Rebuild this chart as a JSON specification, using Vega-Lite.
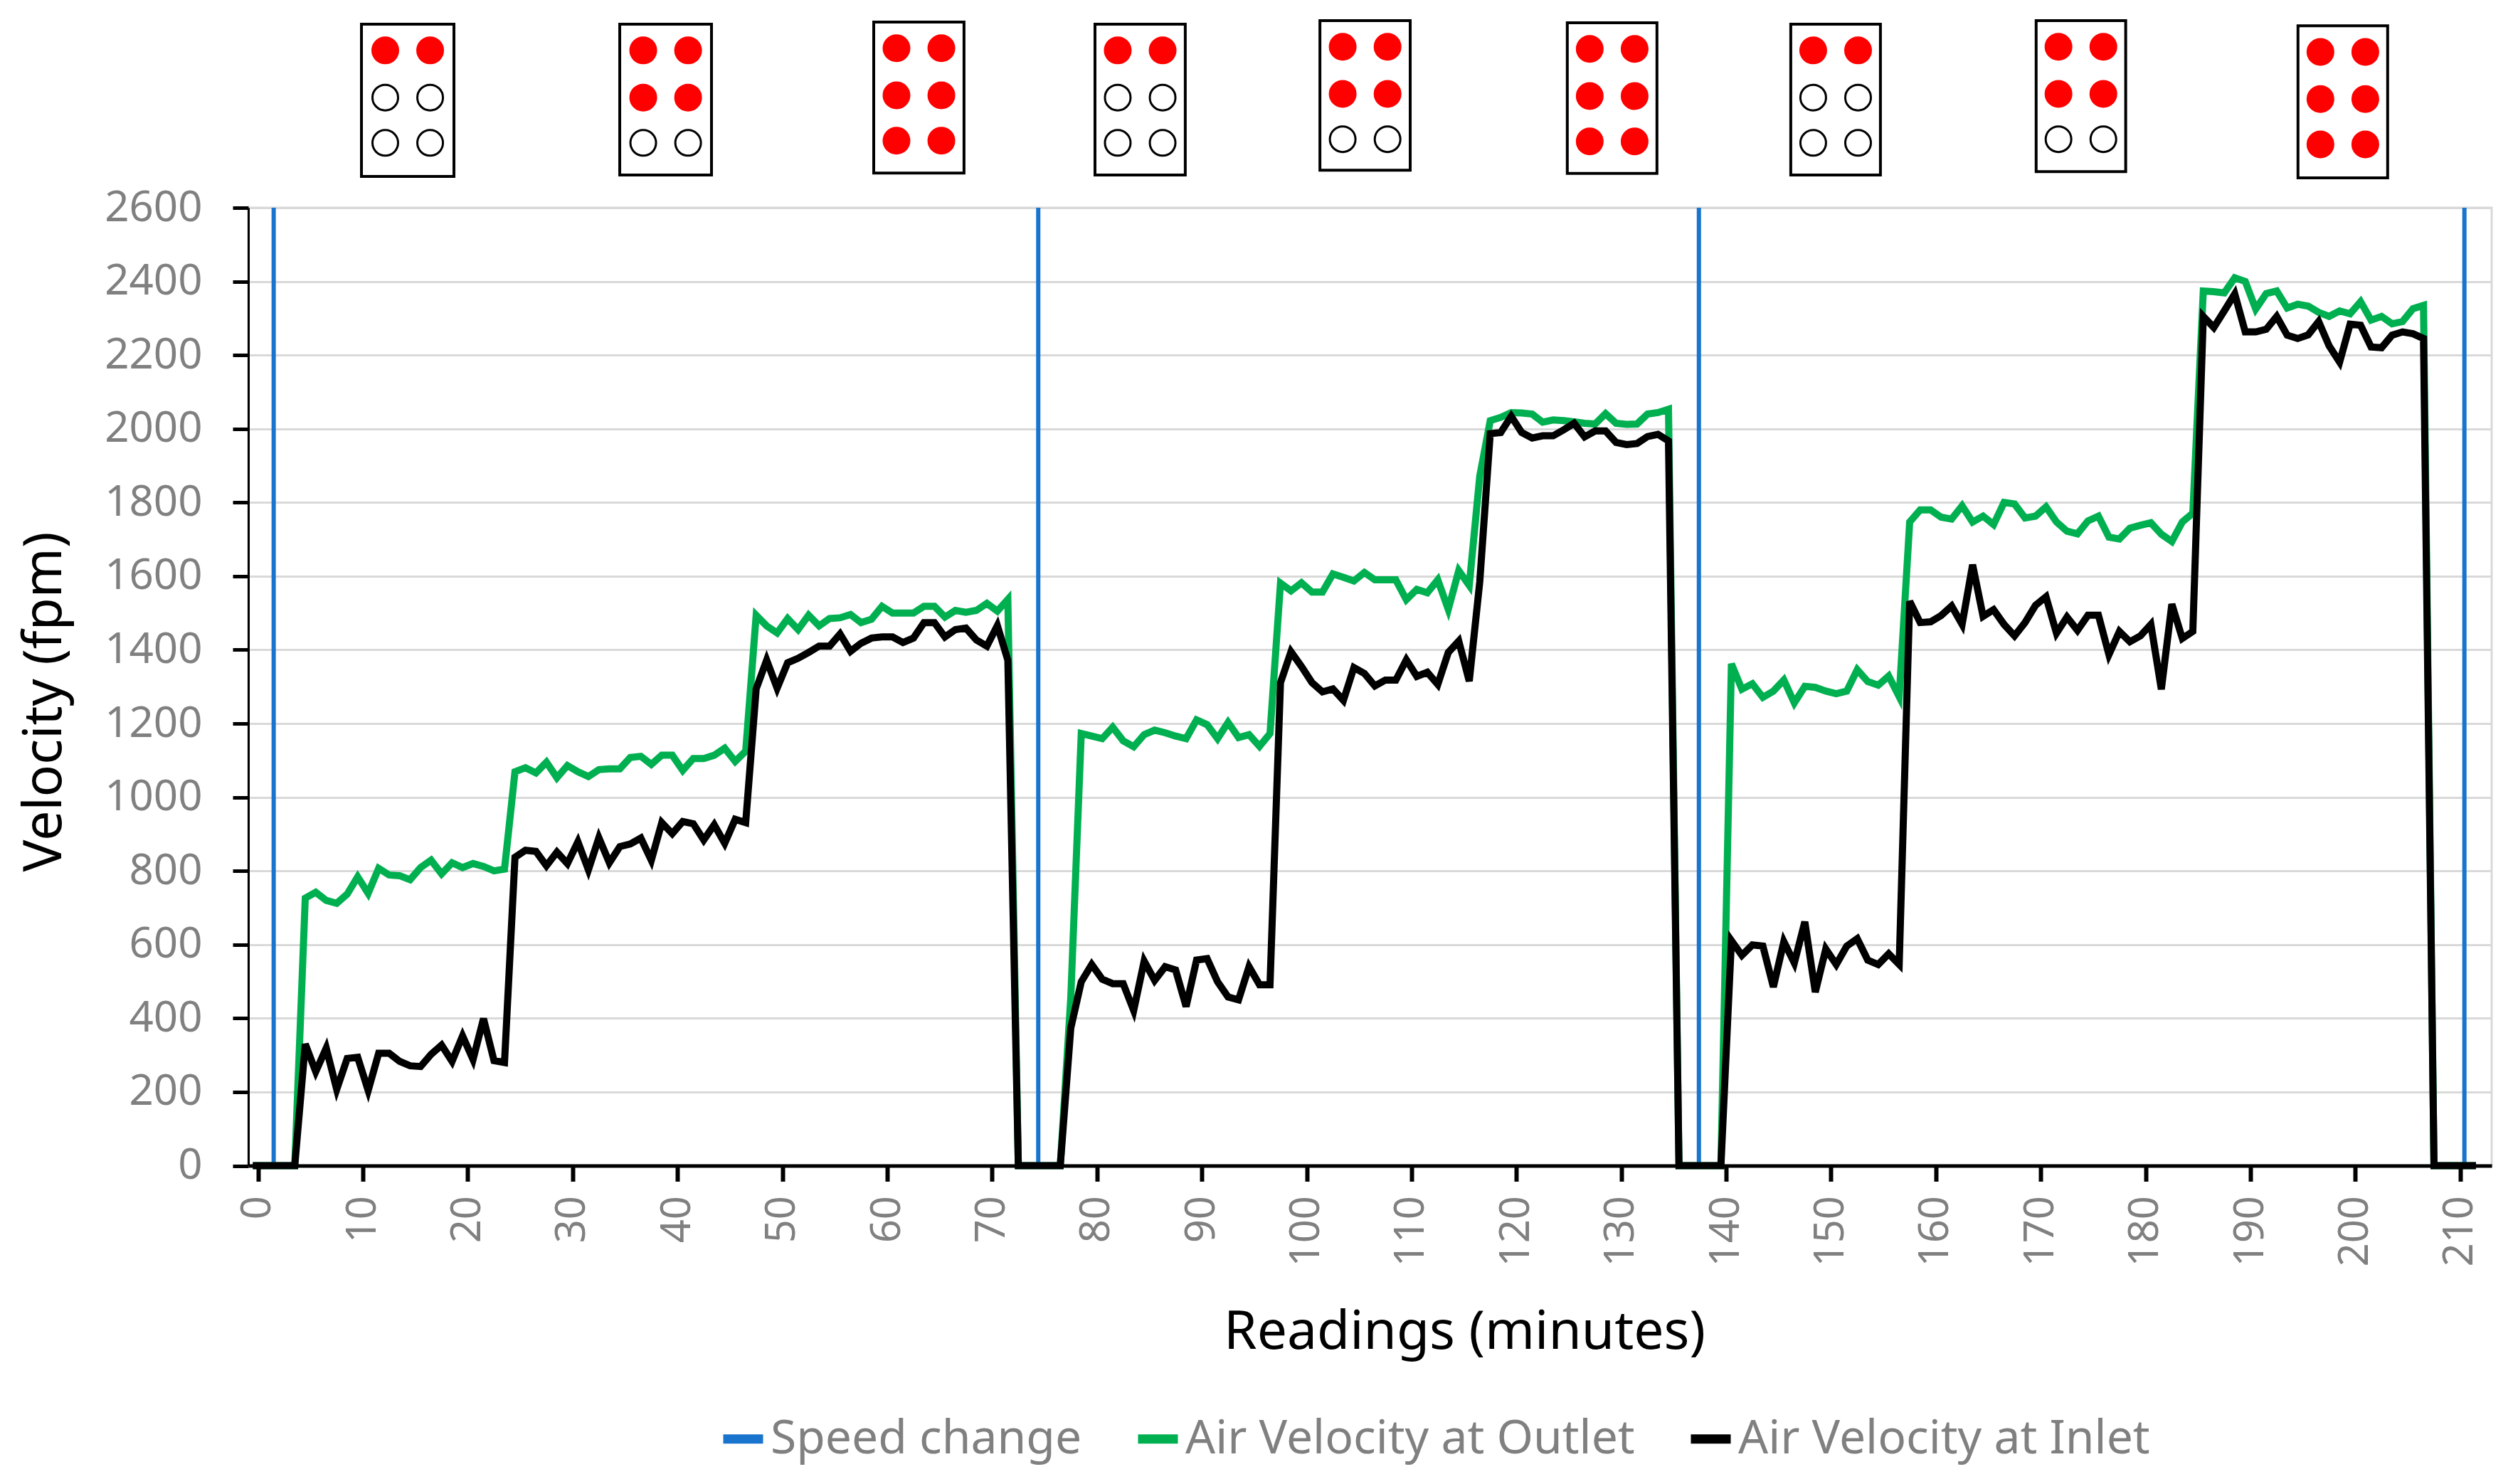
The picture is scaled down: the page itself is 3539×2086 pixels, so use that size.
{"width":3153,"height":1346.5,"autosize":"none","padding":{"left":349,"top":292,"right":37,"bottom":447.5},"background":"white","config":{"view":{"stroke":"#D9D9D9","strokeWidth":3},"font":"Noto Sans"},
"datasets":{
"readings":[{"x":-0.5,"outlet":0,"inlet":0},{"x":0.5,"outlet":0,"inlet":0},{"x":1.5,"outlet":0,"inlet":0},{"x":2.5,"outlet":0,"inlet":0},{"x":3.5,"outlet":0,"inlet":0},
{"x":4.5,"outlet":726,"inlet":330},{"x":5.5,"outlet":742,"inlet":255},{"x":6.5,"outlet":720,"inlet":319},{"x":7.5,"outlet":712,"inlet":207},{"x":8.5,"outlet":737,"inlet":291},{"x":9.5,"outlet":784,"inlet":294},{"x":10.5,"outlet":739,"inlet":204},{"x":11.5,"outlet":807,"inlet":305},{"x":12.5,"outlet":789,"inlet":305},{"x":13.5,"outlet":787,"inlet":283},{"x":14.5,"outlet":776,"inlet":271},{"x":15.5,"outlet":809,"inlet":269},{"x":16.5,"outlet":829,"inlet":302},{"x":17.5,"outlet":792,"inlet":327},{"x":18.5,"outlet":822,"inlet":283},{"x":19.5,"outlet":809,"inlet":352},{"x":20.5,"outlet":820,"inlet":288},{"x":21.5,"outlet":812,"inlet":399},{"x":22.5,"outlet":800,"inlet":285},{"x":23.5,"outlet":805,"inlet":280},
{"x":24.5,"outlet":1069,"inlet":837},{"x":25.5,"outlet":1080,"inlet":856},{"x":26.5,"outlet":1066,"inlet":853},{"x":27.5,"outlet":1095,"inlet":814},{"x":28.5,"outlet":1053,"inlet":851},{"x":29.5,"outlet":1086,"inlet":820},{"x":30.5,"outlet":1069,"inlet":879},{"x":31.5,"outlet":1056,"inlet":803},{"x":32.5,"outlet":1075,"inlet":890},{"x":33.5,"outlet":1077,"inlet":822},{"x":34.5,"outlet":1077,"inlet":866},{"x":35.5,"outlet":1108,"inlet":873},{"x":36.5,"outlet":1111,"inlet":889},{"x":37.5,"outlet":1089,"inlet":829},{"x":38.5,"outlet":1114,"inlet":931},{"x":39.5,"outlet":1114,"inlet":901},{"x":40.5,"outlet":1073,"inlet":934},{"x":41.5,"outlet":1105,"inlet":928},{"x":42.5,"outlet":1105,"inlet":884},{"x":43.5,"outlet":1114,"inlet":925},{"x":44.5,"outlet":1133,"inlet":875},{"x":45.5,"outlet":1097,"inlet":940},{"x":46.5,"outlet":1125,"inlet":931},
{"x":47.5,"outlet":1494,"inlet":1294},{"x":48.5,"outlet":1465,"inlet":1372},{"x":49.5,"outlet":1446,"inlet":1296},{"x":50.5,"outlet":1485,"inlet":1365},{"x":51.5,"outlet":1455,"inlet":1377},{"x":52.5,"outlet":1494,"inlet":1393},{"x":53.5,"outlet":1465,"inlet":1410},{"x":54.5,"outlet":1485,"inlet":1410},{"x":55.5,"outlet":1487,"inlet":1443},{"x":56.5,"outlet":1496,"inlet":1396},{"x":57.5,"outlet":1474,"inlet":1418},{"x":58.5,"outlet":1483,"inlet":1432},{"x":59.5,"outlet":1518,"inlet":1435},{"x":60.5,"outlet":1500,"inlet":1435},{"x":61.5,"outlet":1500,"inlet":1420},{"x":62.5,"outlet":1500,"inlet":1432},{"x":63.5,"outlet":1518,"inlet":1474},{"x":64.5,"outlet":1518,"inlet":1474},{"x":65.5,"outlet":1489,"inlet":1435},{"x":66.5,"outlet":1507,"inlet":1455},{"x":67.5,"outlet":1502,"inlet":1459},{"x":68.5,"outlet":1507,"inlet":1427},{"x":69.5,"outlet":1526,"inlet":1410},{"x":70.5,"outlet":1505,"inlet":1466},{"x":71.5,"outlet":1537,"inlet":1372},
{"x":72.5,"outlet":0,"inlet":0},{"x":73.5,"outlet":0,"inlet":0},{"x":74.5,"outlet":0,"inlet":0},{"x":75.5,"outlet":0,"inlet":0},{"x":76.5,"outlet":0,"inlet":0},
{"x":77.5,"outlet":455,"inlet":373},{"x":78.5,"outlet":1173,"inlet":499},{"x":79.5,"outlet":1166,"inlet":546},{"x":80.5,"outlet":1159,"inlet":506},{"x":81.5,"outlet":1190,"inlet":494},{"x":82.5,"outlet":1153,"inlet":494},{"x":83.5,"outlet":1137,"inlet":421},{"x":84.5,"outlet":1170,"inlet":555},{"x":85.5,"outlet":1182,"inlet":503},{"x":86.5,"outlet":1175,"inlet":540},{"x":87.5,"outlet":1166,"inlet":531},{"x":88.5,"outlet":1159,"inlet":432},{"x":89.5,"outlet":1210,"inlet":558},{"x":90.5,"outlet":1197,"inlet":562},{"x":91.5,"outlet":1159,"inlet":499},{"x":92.5,"outlet":1203,"inlet":458},{"x":93.5,"outlet":1162,"inlet":450},{"x":94.5,"outlet":1170,"inlet":540},{"x":95.5,"outlet":1138,"inlet":491},{"x":96.5,"outlet":1173,"inlet":491},
{"x":97.5,"outlet":1581,"inlet":1311},{"x":98.5,"outlet":1560,"inlet":1395},{"x":99.5,"outlet":1582,"inlet":1355},{"x":100.5,"outlet":1557,"inlet":1311},{"x":101.5,"outlet":1557,"inlet":1286},{"x":102.5,"outlet":1606,"inlet":1294},{"x":103.5,"outlet":1597,"inlet":1263},{"x":104.5,"outlet":1587,"inlet":1352},{"x":105.5,"outlet":1610,"inlet":1336},{"x":106.5,"outlet":1590,"inlet":1302},{"x":107.5,"outlet":1590,"inlet":1318},{"x":108.5,"outlet":1590,"inlet":1318},{"x":109.5,"outlet":1536,"inlet":1373},{"x":110.5,"outlet":1564,"inlet":1328},{"x":111.5,"outlet":1555,"inlet":1339},{"x":112.5,"outlet":1590,"inlet":1306},{"x":113.5,"outlet":1510,"inlet":1393},{"x":114.5,"outlet":1615,"inlet":1424},{"x":115.5,"outlet":1575,"inlet":1315},{"x":116.5,"outlet":1871,"inlet":1584},
{"x":117.5,"outlet":2022,"inlet":1987},{"x":118.5,"outlet":2031,"inlet":1990},{"x":119.5,"outlet":2044,"inlet":2034},{"x":120.5,"outlet":2043,"inlet":1990},{"x":121.5,"outlet":2040,"inlet":1975},{"x":122.5,"outlet":2018,"inlet":1981},{"x":123.5,"outlet":2024,"inlet":1981},{"x":124.5,"outlet":2022,"inlet":1997},{"x":125.5,"outlet":2019,"inlet":2015},{"x":126.5,"outlet":2015,"inlet":1978},{"x":127.5,"outlet":2013,"inlet":1994},{"x":128.5,"outlet":2041,"inlet":1994},{"x":129.5,"outlet":2015,"inlet":1963},{"x":130.5,"outlet":2012,"inlet":1957},{"x":131.5,"outlet":2013,"inlet":1960},{"x":132.5,"outlet":2040,"inlet":1979},{"x":133.5,"outlet":2044,"inlet":1985},{"x":134.5,"outlet":2053,"inlet":1967},
{"x":135.5,"outlet":0,"inlet":0},{"x":136.5,"outlet":0,"inlet":0},{"x":137.5,"outlet":0,"inlet":0},{"x":138.5,"outlet":0,"inlet":0},{"x":139.5,"outlet":0,"inlet":0},
{"x":140.5,"outlet":1362,"inlet":611},{"x":141.5,"outlet":1293,"inlet":571},{"x":142.5,"outlet":1308,"inlet":599},{"x":143.5,"outlet":1271,"inlet":596},{"x":144.5,"outlet":1288,"inlet":485},{"x":145.5,"outlet":1318,"inlet":608},{"x":146.5,"outlet":1256,"inlet":550},{"x":147.5,"outlet":1301,"inlet":662},{"x":148.5,"outlet":1298,"inlet":471},{"x":149.5,"outlet":1288,"inlet":588},{"x":150.5,"outlet":1281,"inlet":546},{"x":151.5,"outlet":1288,"inlet":596},{"x":152.5,"outlet":1346,"inlet":616},{"x":153.5,"outlet":1314,"inlet":558},{"x":154.5,"outlet":1304,"inlet":546},{"x":155.5,"outlet":1329,"inlet":575},{"x":156.5,"outlet":1273,"inlet":546},
{"x":157.5,"outlet":1747,"inlet":1532},{"x":158.5,"outlet":1780,"inlet":1474},{"x":159.5,"outlet":1780,"inlet":1476},{"x":160.5,"outlet":1760,"inlet":1493},{"x":161.5,"outlet":1755,"inlet":1519},{"x":162.5,"outlet":1791,"inlet":1469},{"x":163.5,"outlet":1747,"inlet":1631},{"x":164.5,"outlet":1763,"inlet":1491},{"x":165.5,"outlet":1740,"inlet":1509},{"x":166.5,"outlet":1800,"inlet":1469},{"x":167.5,"outlet":1796,"inlet":1438},{"x":168.5,"outlet":1758,"inlet":1474},{"x":169.5,"outlet":1763,"inlet":1521},{"x":170.5,"outlet":1788,"inlet":1544},{"x":171.5,"outlet":1747,"inlet":1445},{"x":172.5,"outlet":1722,"inlet":1489},{"x":173.5,"outlet":1715,"inlet":1453},{"x":174.5,"outlet":1750,"inlet":1494},{"x":175.5,"outlet":1763,"inlet":1494},{"x":176.5,"outlet":1706,"inlet":1387},{"x":177.5,"outlet":1701,"inlet":1450},{"x":178.5,"outlet":1730,"inlet":1422},{"x":179.5,"outlet":1738,"inlet":1438},{"x":180.5,"outlet":1745,"inlet":1469},{"x":181.5,"outlet":1714,"inlet":1293},{"x":182.5,"outlet":1694,"inlet":1524},{"x":183.5,"outlet":1747,"inlet":1431},{"x":184.5,"outlet":1771,"inlet":1450},
{"x":185.5,"outlet":2374,"inlet":2305},{"x":186.5,"outlet":2372,"inlet":2275},{"x":187.5,"outlet":2369,"inlet":2320},{"x":188.5,"outlet":2410,"inlet":2366},{"x":189.5,"outlet":2400,"inlet":2263},{"x":190.5,"outlet":2325,"inlet":2263},{"x":191.5,"outlet":2367,"inlet":2270},{"x":192.5,"outlet":2374,"inlet":2305},{"x":193.5,"outlet":2328,"inlet":2254},{"x":194.5,"outlet":2338,"inlet":2245},{"x":195.5,"outlet":2333,"inlet":2255},{"x":196.5,"outlet":2316,"inlet":2291},{"x":197.5,"outlet":2305,"inlet":2225},{"x":198.5,"outlet":2320,"inlet":2181},{"x":199.5,"outlet":2312,"inlet":2284},{"x":200.5,"outlet":2345,"inlet":2281},{"x":201.5,"outlet":2295,"inlet":2222},{"x":202.5,"outlet":2305,"inlet":2220},{"x":203.5,"outlet":2285,"inlet":2254},{"x":204.5,"outlet":2291,"inlet":2263},{"x":205.5,"outlet":2326,"inlet":2258},{"x":206.5,"outlet":2335,"inlet":2245},
{"x":207.5,"outlet":0,"inlet":0},{"x":208.5,"outlet":0,"inlet":0},{"x":209.5,"outlet":0,"inlet":0},{"x":210.5,"outlet":0,"inlet":0},{"x":211.5,"outlet":0,"inlet":0}],
"speed":[{"x":1.49},{"x":74.4},{"x":137.4},{"x":210.4}],
"boxes":[{"x0":9.86,"x1":18.68,"y0":2685,"y1":3098},{"x0":34.49,"x1":43.24,"y0":2689,"y1":3098},{"x0":58.71,"x1":67.32,"y0":2694,"y1":3104},{"x0":79.81,"x1":88.42,"y0":2689,"y1":3098},{"x0":101.26,"x1":109.87,"y0":2702,"y1":3108},{"x0":124.85,"x1":133.4,"y0":2693,"y1":3102},{"x0":146.16,"x1":154.71,"y0":2689,"y1":3098},{"x0":169.56,"x1":178.1,"y0":2698,"y1":3108},{"x0":194.53,"x1":203.08,"y0":2681,"y1":3094}],
"dots":[
{"x":12.13,"y":3027,"state":"on"},{"x":16.41,"y":3027,"state":"on"},{"x":12.13,"y":2899,"state":"off"},{"x":16.41,"y":2899,"state":"off"},{"x":12.13,"y":2776,"state":"off"},{"x":16.41,"y":2776,"state":"off"},
{"x":36.73,"y":3027,"state":"on"},{"x":41.01,"y":3027,"state":"on"},{"x":36.73,"y":2899,"state":"on"},{"x":41.01,"y":2899,"state":"on"},{"x":36.73,"y":2776,"state":"off"},{"x":41.01,"y":2776,"state":"off"},
{"x":60.88,"y":3033,"state":"on"},{"x":65.16,"y":3033,"state":"on"},{"x":60.88,"y":2905,"state":"on"},{"x":65.16,"y":2905,"state":"on"},{"x":60.88,"y":2782,"state":"on"},{"x":65.16,"y":2782,"state":"on"},
{"x":81.98,"y":3027,"state":"on"},{"x":86.26,"y":3027,"state":"on"},{"x":81.98,"y":2899,"state":"off"},{"x":86.26,"y":2899,"state":"off"},{"x":81.98,"y":2776,"state":"off"},{"x":86.26,"y":2776,"state":"off"},
{"x":103.43,"y":3037,"state":"on"},{"x":107.71,"y":3037,"state":"on"},{"x":103.43,"y":2909,"state":"on"},{"x":107.71,"y":2909,"state":"on"},{"x":103.43,"y":2786,"state":"off"},{"x":107.71,"y":2786,"state":"off"},
{"x":126.99,"y":3031,"state":"on"},{"x":131.27,"y":3031,"state":"on"},{"x":126.99,"y":2903,"state":"on"},{"x":131.27,"y":2903,"state":"on"},{"x":126.99,"y":2780,"state":"on"},{"x":131.27,"y":2780,"state":"on"},
{"x":148.3,"y":3027,"state":"on"},{"x":152.58,"y":3027,"state":"on"},{"x":148.3,"y":2899,"state":"off"},{"x":152.58,"y":2899,"state":"off"},{"x":148.3,"y":2776,"state":"off"},{"x":152.58,"y":2776,"state":"off"},
{"x":171.69,"y":3037,"state":"on"},{"x":175.97,"y":3037,"state":"on"},{"x":171.69,"y":2909,"state":"on"},{"x":175.97,"y":2909,"state":"on"},{"x":171.69,"y":2786,"state":"off"},{"x":175.97,"y":2786,"state":"off"},
{"x":196.67,"y":3023,"state":"on"},{"x":200.95,"y":3023,"state":"on"},{"x":196.67,"y":2895,"state":"on"},{"x":200.95,"y":2895,"state":"on"},{"x":196.67,"y":2772,"state":"on"},{"x":200.95,"y":2772,"state":"on"}]
},
"layer":[
{"data":{"name":"speed"},"mark":{"type":"rule","strokeWidth":6},
"encoding":{
"x":{"field":"x","type":"quantitative","scale":{"domain":[-0.93,213],"nice":false,"zero":false},
"axis":{"values":[0,10,20,30,40,50,60,70,80,90,100,110,120,130,140,150,160,170,180,190,200,210],"format":"d","grid":false,"labelAngle":-90,"labelFontSize":58,"labelColor":"#808080","labelPadding":20,"domainColor":"#000000","domainWidth":5,"tickColor":"#000000","tickWidth":6,"tickSize":22,"title":"Readings (minutes)","titleFontSize":75,"titleFontWeight":"normal","titleColor":"#000000","titleX":1709,"titleY":198,"zindex":1}},
"color":{"datum":"Speed change","type":"nominal","scale":{"domain":["Speed change","Air Velocity at Outlet","Air Velocity at Inlet"],"range":["#1874CD","#00B050","#000000"]},
"legend":{"title":null,"orient":"none","legendX":661,"legendY":1696,"direction":"horizontal","columns":3,"symbolType":"stroke","symbolStrokeWidth":13,"symbolSize":3136,"labelFontSize":66,"labelColor":"#808080","labelLimit":1500,"columnPadding":52}}}},
{"data":{"name":"readings"},"mark":{"type":"line","strokeWidth":10},
"encoding":{"x":{"field":"x","type":"quantitative"},"y":{"field":"outlet","type":"quantitative","scale":{"domain":[0,2600],"nice":false},
"axis":{"values":[0,200,400,600,800,1000,1200,1400,1600,1800,2000,2200,2400,2600],"format":"d","grid":true,"gridColor":"#D9D9D9","gridWidth":3,"labelFontSize":60,"labelColor":"#808080","labelPadding":43,"domainColor":"#000000","domainWidth":3,"tickColor":"#000000","tickWidth":5,"tickSize":22,"title":"Velocity (fpm)","titleFontSize":75,"titleFontWeight":"normal","titleColor":"#000000","titleX":-248,"titleY":694}},"color":{"datum":"Air Velocity at Outlet","type":"nominal"}}},
{"data":{"name":"readings"},"mark":{"type":"line","strokeWidth":10},
"encoding":{"x":{"field":"x","type":"quantitative"},"y":{"field":"inlet","type":"quantitative"},"color":{"datum":"Air Velocity at Inlet","type":"nominal"}}},
{"data":{"name":"boxes"},"mark":{"type":"rect","fill":"#FFFFFF","stroke":"#000000","strokeWidth":4,"clip":false},
"encoding":{"x":{"field":"x0","type":"quantitative"},"x2":{"field":"x1"},"y":{"field":"y0","type":"quantitative"},"y2":{"field":"y1"}}},
{"data":{"name":"dots"},"mark":{"type":"point","shape":"circle","filled":true,"size":1296,"strokeWidth":3,"opacity":1,"clip":false},
"encoding":{"x":{"field":"x","type":"quantitative"},"y":{"field":"y","type":"quantitative"},
"fill":{"condition":{"test":"datum.state==='on'","value":"#FF0000"},"value":"#FFFFFF"},
"stroke":{"condition":{"test":"datum.state==='on'","value":"#FF0000"},"value":"#000000"}}}
]}
